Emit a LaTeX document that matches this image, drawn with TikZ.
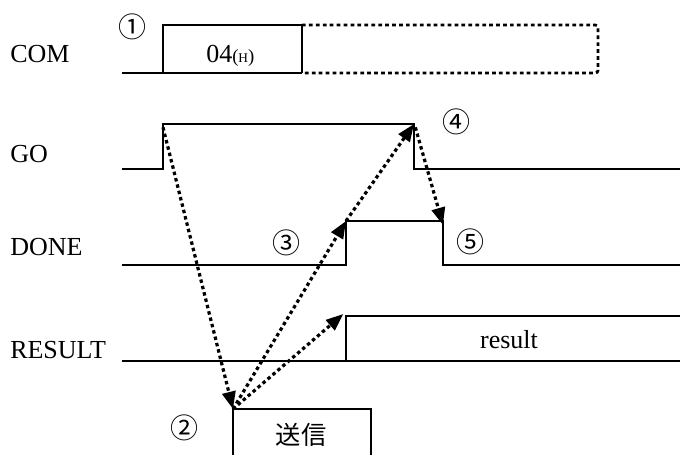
\documentclass[tikz,border=0pt]{standalone}
\usepackage{fontspec}
\setmainfont{Liberation Serif}
\newfontfamily\cjk{Noto Sans CJK JP}
\usetikzlibrary{arrows.meta}
\begin{document}
\begin{tikzpicture}[x=0.75pt,y=-0.75pt,
  wave/.style={line width=2pt,line join=miter},
  future/.style={line width=2.1pt,dash pattern=on 2.8pt off 2.4pt,rounded corners=2pt},
  link/.style={line width=2.4pt,dash pattern=on 2.6pt off 2.3pt,
     -{Triangle[length=13pt,width=10pt]}},
  sig/.style={font=\fontsize{19.5}{20}\selectfont,anchor=base west,inner sep=0pt},
  txt/.style={font=\fontsize{19.5}{20}\selectfont,inner sep=0pt},
  num/.style={font=\cjk\fontsize{21}{21}\selectfont,inner sep=0pt},
  jp/.style={font=\cjk\fontsize{19}{19}\selectfont,inner sep=0pt}]
\useasboundingbox (0,0) rectangle (680,454);
% signal names
\node[sig] (lcom) at (10,62) {COM};
\node[sig] (lgo) at (10,162) {GO};
\node[sig] (ldone) at (10,255) {DONE};
\node[sig] (lres) at (10,358) {RESULT};
% key points
\coordinate (gorise) at (163,124);
\coordinate (gofall) at (414,124);
\coordinate (dnrise) at (346,221);
\coordinate (dnfall) at (443,221);
\coordinate (rsrise) at (346,316);
\coordinate (send) at (233,409);
% COM
\draw[wave] (122,73) -- (302,73);
\draw[wave] (163,73) -- (163,25) -- (302,25) -- (302,73);
\draw[future] (302,25) -- (598,25) -- (598,73) -- (302,73);
\node[anchor=base west,inner sep=0pt] (cval) at (206,62)
  {\fontsize{19.5}{20}\selectfont 04{\fontsize{14}{14}\selectfont(\fontsize{10}{10}\selectfont H\fontsize{14}{14}\selectfont)}};
% GO
\draw[wave] (122,169) -- (163,169) -- (gorise) -- (gofall) -- (414,169) -- (680,169);
% DONE
\draw[wave] (122,265) -- (346,265) -- (dnrise) -- (dnfall) -- (443,265) -- (680,265);
% RESULT
\draw[wave] (122,361) -- (680,361);
\draw[wave] (346,361) -- (rsrise) -- (680,316);
\node[txt,anchor=base] (rval) at (509,348) {result};
% send box
\draw[wave] (233,460) -- (send) -- (371,409) -- (371,460);
\node[jp] (sendtxt) at (301,435) {送信};
% numbers
\node[num] (n1) at (132,27) {①};
\node[num] (n2) at (184,428) {②};
\node[num] (n3) at (286,243) {③};
\node[num] (n4) at (456,122) {④};
\node[num] (n5) at (470,242) {⑤};
% arrows
\draw[link] ([yshift=-2.5]gorise) -- (send);
\draw[link] (send) -- (dnrise);
\draw[link] (send) -- ([xshift=-2,yshift=1.5]rsrise);
\draw[link] (dnrise) -- (gofall);
\draw[link] ([xshift=1,yshift=-2.5]gofall) -- ([yshift=-3]dnfall);
\end{tikzpicture}
\end{document}
